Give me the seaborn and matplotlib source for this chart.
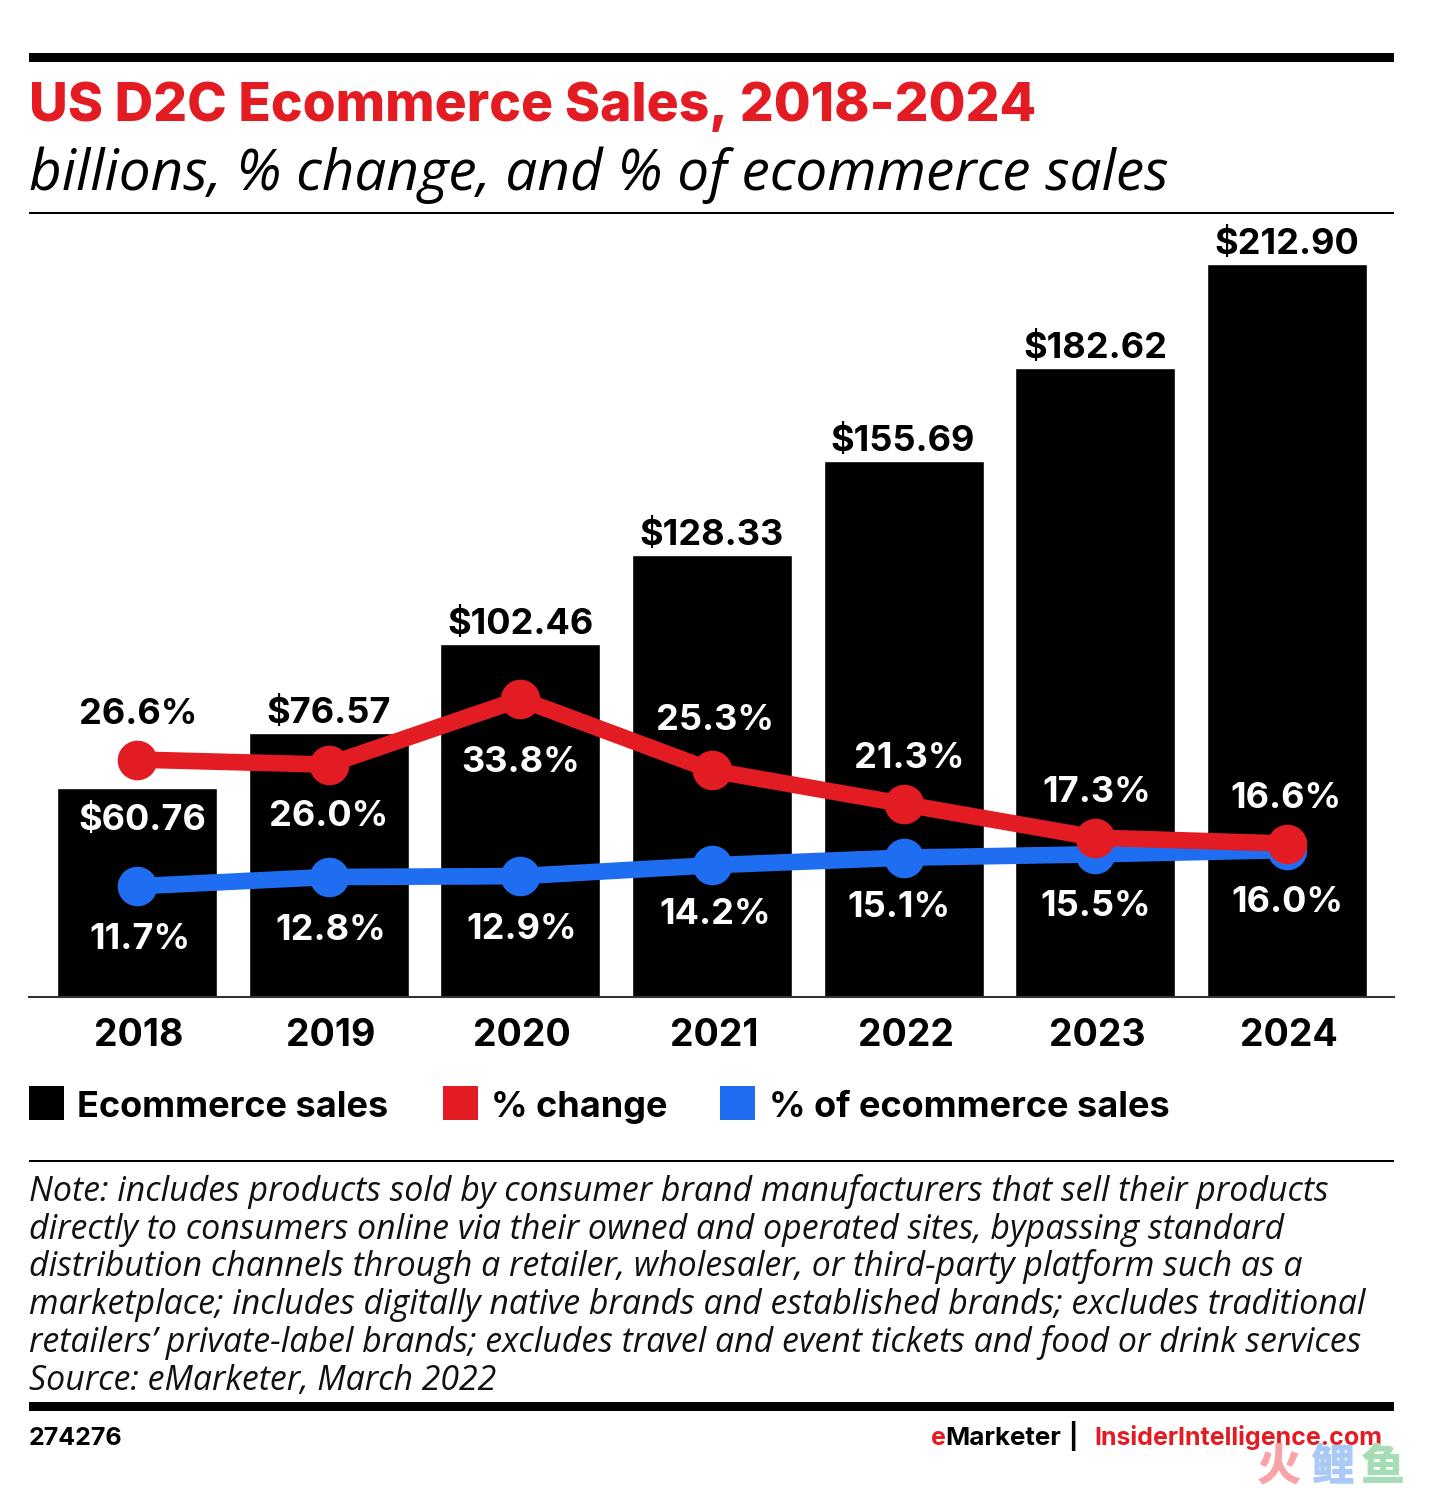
# US D2C ecommerce sales: bars + two % lines
import matplotlib
matplotlib.use("Agg")
import pandas as pd
import seaborn as sns
import matplotlib.pyplot as plt
import matplotlib.patheffects as pe
from matplotlib.patches import Rectangle
from matplotlib.transforms import offset_copy

years = ["2018", "2019", "2020", "2021", "2022", "2023", "2024"]
sales = [60.76, 76.57, 102.46, 128.33, 155.69, 182.62, 212.90]
pct_change = [26.6, 26.0, 33.8, 25.3, 21.3, 17.3, 16.6]
pct_share = [11.7, 12.8, 12.9, 14.2, 15.1, 15.5, 16.0]

BLACK = "#000000"
RED = "#E31B23"
BLUE = "#1F6EF2"
ITALIC = "Open Sans"

W, H = 1430, 1488
sns.set_theme(style="white")
plt.rcParams["font.family"] = ["Inter", "DejaVu Sans"]

fig = plt.figure(figsize=(W / 100, H / 100), dpi=100, facecolor="white")


# helpers, everything below is laid out in image pixels
def fx(x):
    return x / W


def fy(y):
    return 1 - y / H


def rule(y0, y1, color=BLACK):
    fig.add_artist(Rectangle((fx(29), fy(y1)), (1394 - 29) / W, (y1 - y0) / H,
                             transform=fig.transFigure, color=color, lw=0))


# Step 1: bars
ax = fig.add_axes([fx(29), fy(997), (1394 - 29) / W, (997 - 213) / H])
df = pd.DataFrame({"year": years, "sales": sales, "change": pct_change, "share": pct_share})
sns.barplot(data=df, x="year", y="sales", color=BLACK, saturation=1, width=0.835, ax=ax)
ax.set_ylim(0, 227.7)
ax.set_xlim(-0.563, 6.558)
ax.set_xlabel("")
ax.set_ylabel("")
ax.set_yticks([])
ax.tick_params(axis="x", length=0, pad=15)
for t in ax.get_xticklabels():
    t.set_fontsize(27)
    t.set_fontweight("bold")
    t.set_color(BLACK)
    t.set_transform(offset_copy(t.get_transform(), fig=fig, x=2, y=0, units="dots"))
for s in ["top", "left", "right"]:
    ax.spines[s].set_visible(False)
ax.spines["bottom"].set_color("#333333")
ax.spines["bottom"].set_linewidth(1.5)

# Step 2: % lines, blue sits on its own twin so it can be nudged to the picture
ax_share = ax.twinx()
ax_change = ax.twinx()
sns.pointplot(data=df, x="year", y="share", color=BLUE, markersize=19.5, linewidth=12,
              errorbar=None, ax=ax_share)
sns.pointplot(data=df, x="year", y="change", color=RED, markersize=19.5, linewidth=12,
              errorbar=None, ax=ax_change)
ax_share.set_ylim(-1.487, 91.85)
ax_change.set_ylim(-1.667, 91.67)
for a in [ax_share, ax_change]:
    a.set_xlim(-0.563, 6.558)
    a.set_yticks([])
    a.set_ylabel("")
    a.set_xlabel("")
    for s in a.spines.values():
        s.set_visible(False)

# Step 3: value labels, offsets in pixels from each mark
sales_dx = [5, 0, 0, 0, -1, 0, 0]
sales_dy = [-29, 23, 23, 23, 23, 23, 23]
change_dx = [1, 0, 0, 3, 6, 1, -1]
change_dy = [49, -48, -60, 53, 49, 49, 49]
change_col = [BLACK, "white", "white", "white", "white", "white", "white"]
share_dx = [3, 2, 1, 3, -5, 0, 0]
share_dy = [-50, -50, -50, -46, -46, -49, -49]
LABEL = dict(textcoords="offset pixels", ha="center", va="center_baseline",
             fontsize=26, fontweight="bold")

for i, v in enumerate(sales):
    col = "white" if i == 0 else BLACK
    ax.annotate(f"${v:.2f}", xy=(i, v), xytext=(sales_dx[i], sales_dy[i]), color=col, **LABEL)
for i, v in enumerate(pct_change):
    ax_change.annotate(f"{v:.1f}%", xy=(i, v), xytext=(change_dx[i], change_dy[i]),
                       color=change_col[i], **LABEL)
for i, v in enumerate(pct_share):
    ax_share.annotate(f"{v:.1f}%", xy=(i, v), xytext=(share_dx[i], share_dy[i]),
                      color="white", **LABEL)

# Step 4: header rules and titles
rule(53, 62)
rule(212, 214)
rule(1160, 1162)
rule(1402, 1411)
fig.text(fx(29), fy(121), "US D2C Ecommerce Sales, 2018-2024", color=RED, fontsize=38.45,
         fontweight=800, va="baseline")
fig.text(fx(29), fy(190), "billions, % change, and % of ecommerce sales", color=BLACK,
         fontsize=40.8, style="italic", family=ITALIC, va="baseline")

# Step 5: legend
legend_items = [("Ecommerce sales", BLACK, 29, 77), ("% change", RED, 443, 491),
                ("% of ecommerce sales", BLUE, 720, 769)]
for name, col, box_x, text_x in legend_items:
    fig.add_artist(Rectangle((fx(box_x), fy(1120)), 35 / W, 34 / H,
                             transform=fig.transFigure, color=col, lw=0))
    fig.text(fx(text_x), fy(1117), name, fontsize=26, fontweight="bold", color=BLACK,
             va="baseline")

# Step 6: note
note_lines = [
    "Note: includes products sold by consumer brand manufacturers that sell their products",
    "directly to consumers online via their owned and operated sites, bypassing standard",
    "distribution channels through a retailer, wholesaler, or third-party platform such as a",
    "marketplace; includes digitally native brands and established brands; excludes traditional",
    "retailers\u2019 private-label brands; excludes travel and event tickets and food or drink services",
    "Source: eMarketer, March 2022",
]
for i, line in enumerate(note_lines):
    fig.text(fx(29), fy(1201 + i * 37.7), line, fontsize=24.4, style="italic", family=ITALIC,
             color="#111111", va="baseline")

# Step 7: footer
fig.text(fx(29), fy(1445), "274276", fontsize=18, fontweight="bold", color=BLACK, va="baseline")
fig.text(fx(931), fy(1445), "e", fontsize=18, fontweight="bold", color=RED, va="baseline")
fig.text(fx(945), fy(1445), "Marketer", fontsize=18.7, fontweight="bold", color=BLACK, va="baseline")
fig.text(fx(1068), fy(1445), "|", fontsize=18, fontweight="bold", color=BLACK, va="baseline")
fig.text(fx(1094), fy(1445), "InsiderIntelligence.com", fontsize=18, fontweight="bold",
         color=RED, va="baseline")

# watermark
for ch, x, col in [("\u706b", 1279, "#F9A3A8"), ("\u9ca4", 1333, "#A9C9F6"), ("\u9c7c", 1383, "#A6DDB6")]:
    fig.text(fx(x), fy(1467), ch, fontsize=31, fontweight=900, color=col, ha="center",
             va="center", family=["Noto Sans CJK SC", "DejaVu Sans"],
             path_effects=[pe.withStroke(linewidth=0.8, foreground=col)])

fig.savefig("out.png", dpi=100)
